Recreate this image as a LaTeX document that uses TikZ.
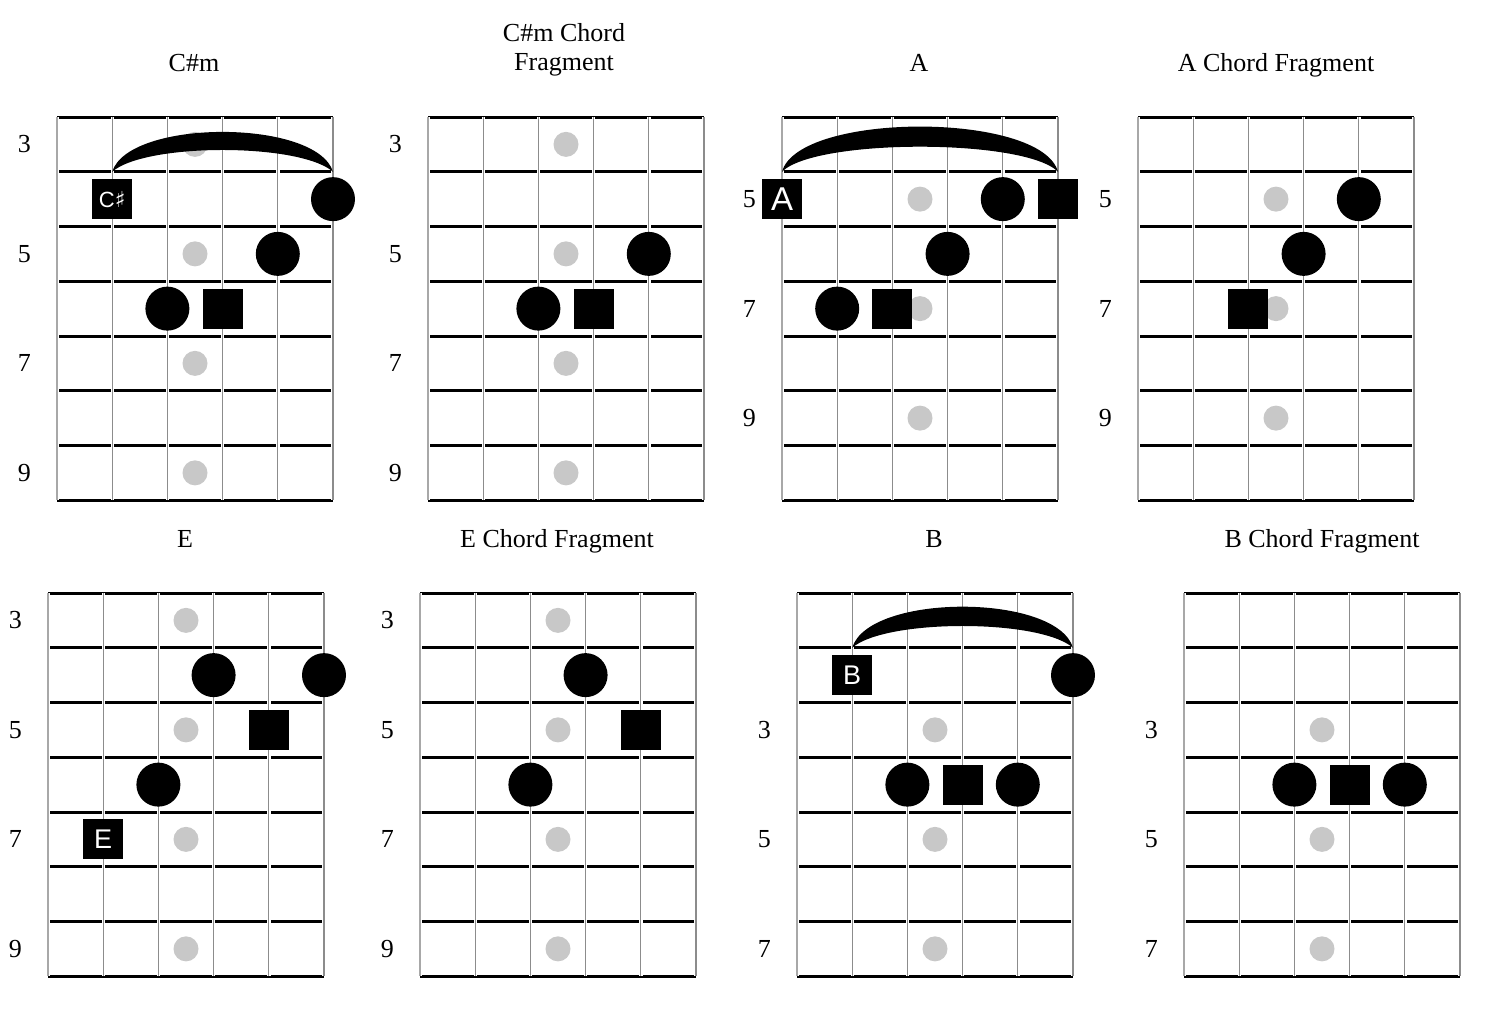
\documentclass[tikz,border=0pt]{standalone}
\usepackage{fontspec}
\setmainfont{Liberation Serif}
\newfontfamily\rootfont{Liberation Sans}
\newfontfamily\sharpfont{DejaVu Sans}
\definecolor{markgray}{HTML}{C8C8C8}
\definecolor{linegray}{HTML}{8C8C8C}
\definecolor{edgegray}{HTML}{A8A8A8}
\tikzset{
 fretline/.style={line width=3pt,black},
 stringhalo/.style={line width=3.4pt,white},
 stringline/.style={line width=1.2pt,linegray},
 edgeline/.style={line width=2.6pt,edgegray},
 marker/.style={circle,fill=markgray,minimum size=25pt,inner sep=0pt},
 fingercircle/.style={circle,fill=black,minimum size=44pt,inner sep=0pt},
 fingersquare/.style={rectangle,fill=black,minimum size=40pt,inner sep=0pt},
 rootbox/.style={rectangle,fill=black,minimum size=40pt,inner sep=0pt,text=white,font=\rootfont\fontsize{27}{27}\selectfont},
 fretnum/.style={font=\fontsize{26}{26}\selectfont,inner sep=0pt},
 title/.style={font=\fontsize{26}{29}\selectfont,inner sep=0pt,align=center},
 barre/.style={fill=black},
 board/.style={x=55.2pt,y=-54.75pt},
}
\newcommand\fboard{%
 \foreach \r in {0,...,7} \draw[fretline] (0,\r) -- (5,\r);
 \draw[stringhalo] (0,0) -- (0,7); \draw[edgeline] (0,0) -- (0,7);
 \foreach \s in {1,...,5} {\draw[stringhalo] (\s,0) -- (\s,7); \draw[stringline] (\s,0) -- (\s,7);}
}
\begin{document}
\begin{tikzpicture}[x=1pt,y=-1pt]
\useasboundingbox[fill=white] (0,0) rectangle (1500,1020);

% titles
\node[title,anchor=base] (t1) at (194,71) {C\#m};
\node[title] (t2) at (564,49.5) {C\#m Chord\\Fragment};
\node[title,anchor=base] (t3) at (919,71) {A};
\node[title,anchor=base] (t4) at (1276,71) {A Chord Fragment};
\node[title,anchor=base] (t5) at (185,547) {E};
\node[title,anchor=base] (t6) at (557,547) {E Chord Fragment};
\node[title,anchor=base] (t7) at (934,547) {B};
\node[title,anchor=base] (t8) at (1322,547) {B Chord Fragment};

% 1: C#m
\begin{scope}[shift={(57pt,-117pt)},board]
 \fboard
 \node[fretnum] (g1-n3) at (-0.59,0.5) {3};
 \node[fretnum] (g1-n5) at (-0.59,2.5) {5};
 \node[fretnum] (g1-n7) at (-0.59,4.5) {7};
 \node[fretnum] (g1-n9) at (-0.59,6.5) {9};
 \node[marker] (g1-m3) at (2.5,0.5) {};
 \node[marker] (g1-m5) at (2.5,2.5) {};
 \node[marker] (g1-m7) at (2.5,4.5) {};
 \node[marker] (g1-m9) at (2.5,6.5) {};
 \fill[barre] (1,1) .. controls (1.3,0.03) and (4.7,0.03) .. (5,1) .. controls (4.4,0.47) and (1.6,0.47) .. (1,1) -- cycle;
 \node[rootbox,font=\rootfont\fontsize{22}{22}\selectfont] (g1-root) at (1,1.5) {C{\sharpfont ♯}};
 \node[fingercircle] (g1-a) at (5,1.5) {};
 \node[fingercircle] (g1-b) at (4,2.5) {};
 \node[fingercircle] (g1-c) at (2,3.5) {};
 \node[fingersquare] (g1-d) at (3,3.5) {};
\end{scope}

% 2: C#m fragment
\begin{scope}[shift={(428pt,-117pt)},board]
 \fboard
 \node[fretnum] (g2-n3) at (-0.59,0.5) {3};
 \node[fretnum] (g2-n5) at (-0.59,2.5) {5};
 \node[fretnum] (g2-n7) at (-0.59,4.5) {7};
 \node[fretnum] (g2-n9) at (-0.59,6.5) {9};
 \node[marker] (g2-m3) at (2.5,0.5) {};
 \node[marker] (g2-m5) at (2.5,2.5) {};
 \node[marker] (g2-m7) at (2.5,4.5) {};
 \node[marker] (g2-m9) at (2.5,6.5) {};
 \node[fingercircle] (g2-b) at (4,2.5) {};
 \node[fingercircle] (g2-c) at (2,3.5) {};
 \node[fingersquare] (g2-d) at (3,3.5) {};
\end{scope}

% 3: A
\begin{scope}[shift={(782pt,-117pt)},board]
 \fboard
 \node[fretnum] (g3-n5) at (-0.59,1.5) {5};
 \node[fretnum] (g3-n7) at (-0.59,3.5) {7};
 \node[fretnum] (g3-n9) at (-0.59,5.5) {9};
 \node[marker] (g3-m5) at (2.5,1.5) {};
 \node[marker] (g3-m7) at (2.5,3.5) {};
 \node[marker] (g3-m9) at (2.5,5.5) {};
 \fill[barre] (0,1) .. controls (0.3,-0.1) and (4.7,-0.1) .. (5,1) .. controls (4.4,0.39) and (0.6,0.39) .. (0,1) -- cycle;
 \node[rootbox,font=\rootfont\fontsize{33}{33}\selectfont] (g3-root) at (0,1.5) {A};
 \node[fingercircle] (g3-a) at (4,1.5) {};
 \node[fingersquare] (g3-b) at (5,1.5) {};
 \node[fingercircle] (g3-c) at (3,2.5) {};
 \node[fingercircle] (g3-d) at (1,3.5) {};
 \node[fingersquare] (g3-e) at (2,3.5) {};
\end{scope}

% 4: A fragment
\begin{scope}[shift={(1138pt,-117pt)},board]
 \fboard
 \node[fretnum] (g4-n5) at (-0.59,1.5) {5};
 \node[fretnum] (g4-n7) at (-0.59,3.5) {7};
 \node[fretnum] (g4-n9) at (-0.59,5.5) {9};
 \node[marker] (g4-m5) at (2.5,1.5) {};
 \node[marker] (g4-m7) at (2.5,3.5) {};
 \node[marker] (g4-m9) at (2.5,5.5) {};
 \node[fingercircle] (g4-a) at (4,1.5) {};
 \node[fingercircle] (g4-c) at (3,2.5) {};
 \node[fingersquare] (g4-e) at (2,3.5) {};
\end{scope}

% 5: E
\begin{scope}[shift={(48pt,-593pt)},board]
 \fboard
 \node[fretnum] (g5-n3) at (-0.59,0.5) {3};
 \node[fretnum] (g5-n5) at (-0.59,2.5) {5};
 \node[fretnum] (g5-n7) at (-0.59,4.5) {7};
 \node[fretnum] (g5-n9) at (-0.59,6.5) {9};
 \node[marker] (g5-m3) at (2.5,0.5) {};
 \node[marker] (g5-m5) at (2.5,2.5) {};
 \node[marker] (g5-m7) at (2.5,4.5) {};
 \node[marker] (g5-m9) at (2.5,6.5) {};
 \node[fingercircle] (g5-a) at (3,1.5) {};
 \node[fingercircle] (g5-b) at (5,1.5) {};
 \node[fingersquare] (g5-c) at (4,2.5) {};
 \node[fingercircle] (g5-d) at (2,3.5) {};
 \node[rootbox] (g5-root) at (1,4.5) {E};
\end{scope}

% 6: E fragment
\begin{scope}[shift={(420pt,-593pt)},board]
 \fboard
 \node[fretnum] (g6-n3) at (-0.59,0.5) {3};
 \node[fretnum] (g6-n5) at (-0.59,2.5) {5};
 \node[fretnum] (g6-n7) at (-0.59,4.5) {7};
 \node[fretnum] (g6-n9) at (-0.59,6.5) {9};
 \node[marker] (g6-m3) at (2.5,0.5) {};
 \node[marker] (g6-m5) at (2.5,2.5) {};
 \node[marker] (g6-m7) at (2.5,4.5) {};
 \node[marker] (g6-m9) at (2.5,6.5) {};
 \node[fingercircle] (g6-a) at (3,1.5) {};
 \node[fingersquare] (g6-c) at (4,2.5) {};
 \node[fingercircle] (g6-d) at (2,3.5) {};
\end{scope}

% 7: B
\begin{scope}[shift={(797pt,-593pt)},board]
 \fboard
 \node[fretnum] (g7-n3) at (-0.59,2.5) {3};
 \node[fretnum] (g7-n5) at (-0.59,4.5) {5};
 \node[fretnum] (g7-n7) at (-0.59,6.5) {7};
 \node[marker] (g7-m3) at (2.5,2.5) {};
 \node[marker] (g7-m5) at (2.5,4.5) {};
 \node[marker] (g7-m7) at (2.5,6.5) {};
 \fill[barre] (1,1) .. controls (1.3,0.0) and (4.7,0.0) .. (5,1) .. controls (4.4,0.47) and (1.6,0.47) .. (1,1) -- cycle;
 \node[rootbox] (g7-root) at (1,1.5) {B};
 \node[fingercircle] (g7-a) at (5,1.5) {};
 \node[fingercircle] (g7-b) at (2,3.5) {};
 \node[fingersquare] (g7-c) at (3,3.5) {};
 \node[fingercircle] (g7-d) at (4,3.5) {};
\end{scope}

% 8: B fragment
\begin{scope}[shift={(1184pt,-593pt)},board]
 \fboard
 \node[fretnum] (g8-n3) at (-0.59,2.5) {3};
 \node[fretnum] (g8-n5) at (-0.59,4.5) {5};
 \node[fretnum] (g8-n7) at (-0.59,6.5) {7};
 \node[marker] (g8-m3) at (2.5,2.5) {};
 \node[marker] (g8-m5) at (2.5,4.5) {};
 \node[marker] (g8-m7) at (2.5,6.5) {};
 \node[fingercircle] (g8-b) at (2,3.5) {};
 \node[fingersquare] (g8-c) at (3,3.5) {};
 \node[fingercircle] (g8-d) at (4,3.5) {};
\end{scope}
\end{tikzpicture}
\end{document}
